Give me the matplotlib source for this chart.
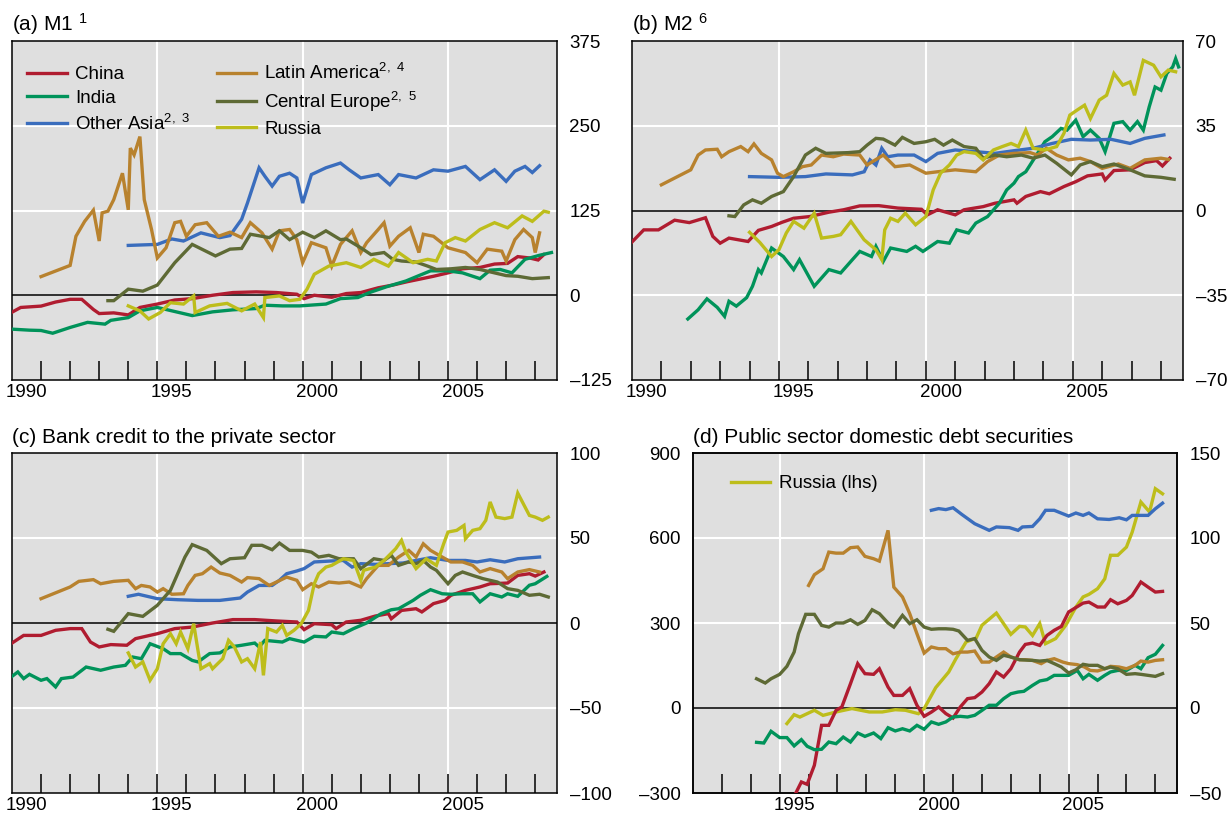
import matplotlib
matplotlib.use("Agg")
import matplotlib.pyplot as plt

plt.rcParams['font.family'] = ['Liberation Sans', 'DejaVu Sans']
plt.rcParams['mathtext.default'] = 'regular'

BG = '#dfdfdf'
C_CHINA = '#b01c30'
C_INDIA = '#00935a'
C_ASIA = '#3a6dbd'
C_LATAM = '#b8822e'
C_CEUR = '#5e6a35'
C_RUSSIA = '#bdbd1b'

# (a) M1, year / value
A_CHINA = [(1990.0,-25),(1990.3,-18),(1991.0,-16),(1991.5,-10),(1992.0,-6),(1992.4,-6),(1992.8,-21),(1993.0,-27),(1993.5,-26),(1994.0,-29),(1994.4,-18),(1995.0,-13),(1995.6,-7),(1996.2,-5),(1996.9,0),(1997.6,4),(1998.4,5),(1999.1,4),(1999.8,1.5),(2000.05,-5),(2000.4,0),(2001.0,-3),(2001.5,2.5),(2002.0,4),(2002.6,11),(2003.1,15),(2003.6,20),(2004.0,23.5),(2004.5,28),(2005.0,33),(2005.5,39),(2006.1,41),(2006.6,46),(2007.05,47),(2007.4,57),(2007.8,55),(2008.1,52),(2008.3,60)]
A_INDIA = [(1990.0,-50),(1990.6,-51.5),(1991.0,-52),(1991.4,-56),(1992.0,-47.5),(1992.6,-40),(1993.2,-42.6),(1993.4,-37),(1994.0,-33),(1994.4,-23),(1995.0,-18),(1995.5,-23),(1996.2,-30),(1996.9,-24.5),(1997.6,-21.5),(1998.4,-19.6),(1998.7,-14.7),(1999.3,-15.7),(1999.9,-15.7),(2000.8,-13),(2001.3,-5),(2001.9,-3.4),(2002.3,4),(2002.9,12.7),(2003.55,21),(2004.0,29),(2004.4,36),(2005.0,36),(2005.5,33),(2006.1,24.5),(2006.45,37),(2006.8,38),(2007.2,33),(2007.65,53),(2008.15,59),(2008.56,63)]
A_ASIA = [(1994.0,73.5),(1995.0,75),(1995.5,83),(1995.9,80),(1996.5,92),(1997.15,85),(1997.5,88),(1997.9,112),(1998.1,136),(1998.5,188),(1998.7,175.5),(1998.95,161),(1999.2,175.5),(1999.55,180),(1999.8,173),(2000.0,136),(2000.3,178),(2000.8,188),(2001.3,195),(2001.6,185),(2002.0,173),(2002.6,178),(2003.0,163),(2003.3,178),(2003.9,173),(2004.5,185),(2005.0,183),(2005.6,190),(2006.1,170.5),(2006.6,185),(2007.0,168),(2007.3,183),(2007.65,190),(2007.9,181),(2008.15,191)]
A_LATAM = [(1991.0,27.5),(1992.0,44),(1992.2,87),(1992.5,109),(1992.8,125.5),(1993.0,80),(1993.1,121.5),(1993.3,124),(1993.5,141),(1993.8,180),(1994.0,126),(1994.07,217),(1994.2,207),(1994.4,234),(1994.55,141),(1994.8,97),(1995.0,55),(1995.3,70),(1995.6,107),(1995.8,109),(1996.0,87),(1996.3,104),(1996.7,107),(1997.1,87),(1997.5,93),(1997.9,85),(1998.2,107),(1998.6,92),(1998.95,68),(1999.2,95),(1999.55,97),(1999.8,82),(2000.0,48),(2000.3,77.5),(2000.8,70),(2001.0,43),(2001.3,75),(2001.7,95),(2002.0,63),(2002.2,77.5),(2002.6,97),(2002.8,107),(2003.0,72.5),(2003.3,87),(2003.7,99.5),(2004.0,63),(2004.15,90),(2004.5,87),(2005.0,70),(2005.6,63),(2006.0,48),(2006.35,68),(2006.85,65),(2007.0,50.5),(2007.3,82),(2007.6,97),(2007.9,85),(2008.0,63),(2008.15,92)]
A_CEUR = [(1993.3,-8),(1993.5,-8),(1994.0,9),(1994.5,6),(1995.0,15),(1995.6,48),(1996.2,75),(1997.0,58),(1997.5,68),(1997.9,69),(1998.2,90),(1998.85,85),(1999.2,95),(1999.55,82),(2000.0,93),(2000.4,85),(2000.8,95),(2001.3,82),(2001.5,83),(2002.0,70),(2002.35,60),(2002.8,63),(2003.1,53),(2003.4,50.5),(2003.9,49),(2004.3,43),(2004.6,38),(2005.1,39),(2005.6,41),(2006.1,38),(2006.6,33),(2007.0,29),(2007.4,28),(2007.9,24.5),(2008.45,26)]
A_RUSSIA = [(1994.0,-15.7),(1994.4,-23),(1994.7,-35),(1995.1,-25.5),(1995.45,-11),(1995.9,-13),(1996.25,-1),(1996.3,-25.5),(1996.8,-15.7),(1997.4,-12),(1997.9,-23),(1998.35,-13),(1998.65,-33),(1998.7,-3.4),(1999.2,-1),(1999.55,-8),(1999.9,-6),(2000.15,9),(2000.4,31),(2000.9,43),(2001.5,48),(2002.0,41),(2002.45,53),(2002.95,43),(2003.3,63),(2003.8,48),(2004.3,53),(2004.6,50.5),(2004.9,77.5),(2005.25,85),(2005.6,80),(2006.1,97),(2006.6,107),(2007.05,99.5),(2007.55,117),(2007.9,109),(2008.3,124),(2008.45,122.5)]

# (b) M2
B_CHINA = [(1990.0,-13),(1990.4,-8),(1990.9,-8),(1991.45,-4),(1991.95,-5),(1992.5,-3),(1992.75,-10.7),(1993.0,-13.5),(1993.3,-11.4),(1993.95,-12.8),(1994.3,-8.2),(1994.75,-6.6),(1995.1,-4.9),(1995.5,-3.2),(1996.05,-2.5),(1996.7,-0.7),(1997.2,0.3),(1997.75,1.9),(1998.4,2),(1999.05,1),(1999.85,0.5),(2000.05,-1.8),(2000.4,0.3),(2001.0,-1.8),(2001.3,0.3),(2001.95,1.6),(2002.35,3),(2003.0,4.4),(2003.1,3),(2003.4,5.8),(2003.9,7.8),(2004.2,6.9),(2004.7,9.9),(2005.1,11.9),(2005.5,14.3),(2006.0,15.1),(2006.1,12.6),(2006.4,16.5),(2006.95,16.8),(2007.45,19.8),(2007.85,20.6),(2008.05,18.4),(2008.3,21.6)]
B_INDIA = [(1991.9,-44.8),(1992.25,-41),(1992.55,-36.5),(1992.9,-40),(1993.15,-43.7),(1993.3,-37.5),(1993.55,-39.5),(1993.9,-36),(1994.1,-31.3),(1994.3,-24.4),(1994.4,-25.8),(1994.75,-15.5),(1995.15,-19),(1995.5,-24.4),(1995.7,-20.3),(1996.2,-31.3),(1996.7,-24.4),(1997.1,-25.8),(1997.5,-20.3),(1997.75,-16.9),(1998.15,-19),(1998.3,-14.8),(1998.55,-21),(1998.8,-15.5),(1999.35,-16.9),(1999.65,-14.8),(1999.9,-16.9),(2000.4,-12.8),(2000.8,-13.5),(2001.05,-8),(2001.45,-9.3),(2001.7,-5.2),(2002.1,-2.5),(2002.5,3),(2002.75,8.5),(2003.0,11.3),(2003.15,14),(2003.4,16),(2003.8,23.6),(2004.05,28.4),(2004.3,30.5),(2004.6,33.9),(2004.8,33.2),(2005.1,37.3),(2005.35,30.5),(2005.6,33.2),(2005.9,29.8),(2006.1,24.3),(2006.4,36),(2006.7,36.7),(2006.95,33.2),(2007.2,36.7),(2007.4,33.2),(2007.6,42.8),(2007.8,51),(2008.0,49.7),(2008.2,56.6),(2008.4,59.3),(2008.5,62.7),(2008.6,59.3)]
B_ASIA = [(1994.0,14),(1995.0,13.7),(1995.9,14),(1996.6,15.1),(1997.5,14.7),(1997.9,16),(1998.1,20.9),(1998.3,18.8),(1998.5,25.7),(1998.7,22.2),(1999.05,22.9),(1999.6,22.9),(2000.0,20.2),(2000.4,23.6),(2001.0,25),(2001.7,24.3),(2002.35,23.6),(2003.0,24.7),(2003.65,25.7),(2004.3,27.7),(2004.95,29.4),(2005.6,29.1),(2006.3,29.4),(2006.95,27.7),(2007.45,29.8),(2008.1,31.2)]
B_LATAM = [(1991.0,10.6),(1992.0,16.8),(1992.25,22.9),(1992.5,25),(1992.9,25.3),(1993.05,22.2),(1993.3,24.3),(1993.7,26.4),(1993.95,24.3),(1994.15,27.5),(1994.4,23.6),(1994.75,20.9),(1994.95,15.4),(1995.15,14),(1995.5,16),(1995.8,18.1),(1996.1,18.8),(1996.45,22.9),(1996.85,22.2),(1997.2,23.3),(1997.75,22.9),(1998.0,18.8),(1998.55,22.9),(1998.95,18.1),(1999.45,18.8),(2000.0,15.4),(2000.4,16),(2001.0,16.8),(2001.7,16),(2002.1,20.2),(2002.5,22.9),(2003.0,23.6),(2003.55,23.9),(2003.8,22.9),(2004.1,25.7),(2004.45,22.9),(2004.85,20.9),(2005.25,21.6),(2005.6,20.2),(2006.0,17.4),(2006.55,19.2),(2006.95,17.4),(2007.45,20.9),(2008.0,21.6),(2008.25,21.1)]
B_CEUR = [(1993.3,-2.2),(1993.5,-2.5),(1993.8,2.3),(1994.1,4.4),(1994.4,3),(1994.75,5.8),(1995.15,7.8),(1995.5,14),(1995.9,22.9),(1996.25,25.7),(1996.6,23.6),(1997.35,23.9),(1997.75,24.3),(1998.0,27),(1998.3,29.8),(1998.55,29.5),(1998.95,27),(1999.2,30.2),(1999.6,27.7),(2000.0,28.4),(2000.3,29.4),(2000.6,27),(2000.9,29.1),(2001.3,26.4),(2001.7,25.7),(2001.95,21.6),(2002.35,22.9),(2002.75,22.2),(2003.25,22.9),(2003.65,21.6),(2004.05,22.9),(2004.45,19.5),(2004.95,14.7),(2005.25,18.8),(2005.6,20.2),(2006.0,18.1),(2006.4,19.2),(2006.95,16.8),(2007.45,14.3),(2008.0,13.7),(2008.45,12.9)]
B_RUSSIA = [(1994.0,-9),(1994.35,-13.2),(1994.75,-19),(1995.0,-16.2),(1995.25,-9.3),(1995.5,-4.5),(1995.85,-7.3),(1996.2,-1.1),(1996.45,-11.4),(1996.85,-10.7),(1997.1,-10),(1997.45,-4.5),(1997.9,-12.1),(1998.3,-16.2),(1998.5,-20.3),(1998.6,-8),(1998.8,-3.2),(1999.05,-4.5),(1999.3,-1.1),(1999.65,-5.9),(2000.0,-2.5),(2000.25,8.5),(2000.5,15.4),(2000.8,18.8),(2001.05,22.9),(2001.3,24.3),(2001.7,23.6),(2001.95,20.9),(2002.3,25),(2002.6,26.4),(2002.9,27.7),(2003.15,26.4),(2003.4,33.2),(2003.65,25.7),(2004.05,25),(2004.45,26.4),(2004.7,31.9),(2004.9,39.4),(2005.15,41.5),(2005.4,43.5),(2005.6,38),(2005.9,45.6),(2006.15,47.6),(2006.4,56.6),(2006.7,51.8),(2006.95,53.1),(2007.1,47.6),(2007.4,62),(2007.75,60),(2008.0,55.2),(2008.25,58),(2008.5,57.3)]

# (c) Bank credit to the private sector
C_CHINA_D = [(1990.0,-11.8),(1990.4,-7.3),(1991.0,-7.3),(1991.5,-4.3),(1992.0,-3.3),(1992.4,-3.3),(1992.7,-11.2),(1993.0,-14.1),(1993.4,-12.7),(1993.95,-13.1),(1994.25,-9.2),(1995.0,-6.3),(1995.6,-3.3),(1996.2,-2.4),(1996.9,0),(1997.6,2),(1998.35,2),(1999.1,1.2),(1999.8,0.6),(2000.05,-3.9),(2000.4,-0.4),(2001.0,-1),(2001.15,-3.3),(2001.5,0.6),(2002.0,1.6),(2002.5,4.1),(2002.95,5.5),(2003.05,2.5),(2003.4,7.4),(2003.9,8.4),(2004.1,6.5),(2004.5,11.4),(2004.9,13.3),(2005.1,16.3),(2005.6,19.2),(2006.1,21.2),(2006.45,23.1),(2007.05,23.5),(2007.4,28),(2007.8,29),(2008.0,27.6),(2008.3,30)]
C_INDIA_D = [(1990.0,-31.4),(1990.2,-28.8),(1990.4,-32.7),(1990.6,-30.2),(1991.0,-33.7),(1991.2,-32.7),(1991.5,-37.6),(1991.7,-32.7),(1992.1,-31.8),(1992.55,-25.9),(1993.05,-27.8),(1993.5,-25.9),(1993.9,-24.9),(1994.15,-20),(1994.45,-21),(1994.75,-12.2),(1995.2,-15.1),(1995.45,-18),(1995.8,-18),(1996.2,-22),(1996.4,-22.9),(1996.8,-18),(1997.15,-17.6),(1997.5,-14.1),(1997.9,-13.1),(1998.35,-11.8),(1998.5,-14.1),(1998.7,-10.2),(1999.3,-11.2),(1999.55,-9.2),(2000.05,-11.2),(2000.4,-7.8),(2000.8,-8.2),(2001.0,-5.3),(2001.4,-6.3),(2001.75,-3.3),(2002.2,0),(2002.7,5.5),(2003.05,7.8),(2003.3,8.4),(2003.8,13.3),(2004.05,16.3),(2004.4,19.6),(2004.8,17.2),(2005.1,16.9),(2005.5,17.2),(2005.85,17.2),(2006.1,12.4),(2006.45,17.2),(2006.85,15.3),(2007.05,17.2),(2007.4,15.7),(2007.8,22.2),(2008.0,23.1),(2008.4,27.4)]
C_ASIA_D = [(1994.0,15.7),(1994.35,16.9),(1995.0,14.3),(1995.7,13.7),(1996.4,13.3),(1997.15,13.3),(1997.85,14.7),(1998.1,18.2),(1998.5,22.1),(1998.95,22.1),(1999.2,25.1),(1999.45,29),(1999.8,30.6),(2000.05,32),(2000.4,35.9),(2001.0,36.5),(2001.4,36.8),(2001.7,32.9),(2002.0,34.9),(2002.5,34.5),(2002.95,34.9),(2003.45,35.3),(2003.9,36.8),(2004.4,38.4),(2005.0,36.8),(2005.6,36.8),(2006.0,35.9),(2006.45,37.2),(2006.95,35.9),(2007.4,37.8),(2008.15,38.8)]
C_LATAM_D = [(1991.0,14.3),(1992.0,21.2),(1992.3,24.5),(1992.8,25.5),(1993.05,23.1),(1993.5,24.5),(1994.0,25.1),(1994.25,20.2),(1994.45,22.1),(1994.75,21.2),(1995.0,18.2),(1995.2,20.2),(1995.5,16.9),(1995.9,17.2),(1996.05,22.1),(1996.3,28),(1996.55,29),(1996.85,32.9),(1997.15,29.4),(1997.5,28),(1997.9,24.1),(1998.1,26.7),(1998.5,26.1),(1998.85,22.1),(1999.1,24.1),(1999.45,27),(1999.8,25.1),(2000.0,19.6),(2000.3,23.1),(2000.55,21.2),(2000.9,24.1),(2001.25,23.5),(2001.6,24.1),(2002.0,21.2),(2002.2,26.1),(2002.6,33.9),(2002.95,33.9),(2003.3,38.8),(2003.65,42.7),(2003.9,38.8),(2004.15,46.6),(2004.4,42.7),(2004.8,38.8),(2005.1,35.9),(2005.5,35.9),(2005.85,33.9),(2006.1,30),(2006.45,32),(2006.85,30),(2007.05,26.1),(2007.4,30),(2007.8,31.4),(2008.15,30)]
C_CEUR_D = [(1993.3,-3.7),(1993.5,-4.9),(1994.0,5.5),(1994.5,3.9),(1995.0,10.4),(1995.45,19.2),(1995.95,38.8),(1996.2,46.1),(1996.7,42.7),(1997.2,34.9),(1997.5,37.8),(1998.0,38.4),(1998.25,45.7),(1998.6,45.7),(1998.95,43.1),(1999.2,47),(1999.55,42.7),(2000.0,42.7),(2000.3,41.7),(2000.55,38.8),(2000.9,39.8),(2001.25,37.8),(2001.75,37.8),(2002.0,31.9),(2002.45,37.8),(2002.8,36.8),(2003.05,39.8),(2003.3,33.9),(2003.65,35.9),(2003.9,34.9),(2004.15,36.8),(2004.4,32.9),(2004.6,31),(2005.0,23.1),(2005.25,28),(2005.5,30),(2005.85,28),(2006.2,26.1),(2006.7,24.1),(2007.05,20.2),(2007.4,19.2),(2007.8,16.3),(2008.15,16.9),(2008.45,15.3)]
C_RUSSIA_D = [(1994.0,-17.6),(1994.25,-25.9),(1994.5,-22.9),(1994.75,-33.7),(1995.0,-26.9),(1995.2,-12.2),(1995.45,-6.3),(1995.65,-12.2),(1995.8,-5.3),(1996.05,-15.1),(1996.25,-0.4),(1996.5,-26.9),(1996.8,-23.9),(1996.9,-26.9),(1997.25,-21),(1997.45,-10.2),(1997.65,-14.1),(1997.9,-22.9),(1998.1,-21),(1998.35,-26.9),(1998.55,-11.2),(1998.65,-30.8),(1998.8,-3.3),(1999.1,-5.3),(1999.3,-1.4),(1999.45,-7.3),(1999.7,-4.3),(1999.95,-0.4),(2000.2,7.4),(2000.4,23.1),(2000.55,29),(2000.8,32.9),(2001.0,33.9),(2001.4,37.8),(2001.75,36.8),(2002.0,25.1),(2002.1,31),(2002.5,32.9),(2002.8,36.8),(2003.2,43.7),(2003.4,48.6),(2003.55,41.7),(2003.9,32),(2004.25,37.8),(2004.6,33.9),(2004.85,46.6),(2005.0,53.5),(2005.3,54.5),(2005.55,57.4),(2005.6,49.6),(2005.85,54.5),(2006.1,55.5),(2006.3,60.4),(2006.45,71.2),(2006.65,62.3),(2006.95,61.4),(2007.2,62.3),(2007.4,76.4),(2007.8,63.3),(2008.0,62.3),(2008.25,60.4),(2008.45,62.3)]

# (d) Public sector domestic debt securities; Russia on lhs, rest on rhs
D_RUSSIA = [(1995.25,-55),(1995.5,-23.5),(1995.7,-32),(1996.2,-8),(1996.5,-26),(1996.95,-14),(1997.5,-2),(1998.1,-14),(1998.55,-14),(1999.0,-6),(1999.35,-8),(1999.8,-20),(2000.0,-2),(2000.4,72),(2000.85,127),(2001.1,174),(2001.45,233),(2001.8,247),(2002.0,292),(2002.5,335),(2003.0,260),(2003.3,288),(2003.5,286),(2003.75,256),(2004.0,298),(2004.2,227),(2004.55,245),(2004.9,292),(2005.25,356),(2005.5,392),(2005.7,401),(2006.0,421),(2006.25,456),(2006.45,539),(2006.7,539),(2007.0,568),(2007.2,621),(2007.5,727),(2007.8,692),(2008.0,774),(2008.25,756)]
D_ASIA = [(2000.25,116.3),(2000.5,117.3),(2000.75,116.7),(2001.0,117.8),(2001.3,113.9),(2001.75,108.4),(2002.25,104.5),(2002.5,106.5),(2002.95,106.1),(2003.25,104.5),(2003.4,106.5),(2003.75,106.8),(2004.0,111.3),(2004.2,116.3),(2004.5,116.3),(2005.0,112.9),(2005.25,114.7),(2005.5,113.3),(2005.7,114.7),(2006.0,111.3),(2006.4,110.9),(2006.75,111.9),(2007.0,110.7),(2007.2,113.3),(2007.75,113.3),(2008.0,117.2),(2008.25,120.5)]
D_CHINA = [(1995.5,-52),(1995.75,-43.5),(1995.95,-44.9),(1996.2,-33.7),(1996.45,-10.2),(1996.7,-10.2),(1996.95,-1.4),(1997.15,0.6),(1997.45,14.3),(1997.7,26.1),(1997.95,20.2),(1998.25,19.8),(1998.45,23.1),(1998.75,12.3),(1998.95,7.4),(1999.25,7.4),(1999.5,11.4),(1999.75,1.6),(2000.0,-4.9),(2000.25,-2.4),(2000.5,0.6),(2000.75,-3.3),(2001.0,-5.9),(2001.25,0.6),(2001.5,5.5),(2001.75,6.1),(2002.0,9.4),(2002.25,14.3),(2002.5,21.2),(2002.75,18.2),(2003.0,23.1),(2003.3,32.9),(2003.5,37.4),(2003.75,38.2),(2004.0,36.8),(2004.25,42.7),(2004.5,45.7),(2004.75,48),(2005.0,56.5),(2005.5,61.7),(2005.7,62.3),(2006.0,59.4),(2006.25,59.4),(2006.45,63.7),(2006.7,61.3),(2007.0,63.3),(2007.2,66.2),(2007.5,74.1),(2007.75,71.1),(2008.0,68.2),(2008.25,68.6)]
D_INDIA = [(1994.2,-20.2),(1994.45,-20.6),(1994.7,-13.7),(1995.0,-17.4),(1995.25,-17.4),(1995.5,-22.3),(1995.75,-18.6),(1995.95,-22.5),(1996.2,-24.5),(1996.45,-24.3),(1996.7,-20),(1996.95,-21),(1997.2,-17.1),(1997.45,-20),(1997.7,-14.7),(1997.95,-16.7),(1998.25,-14.7),(1998.5,-18),(1998.75,-11.6),(1999.0,-13.5),(1999.25,-12.2),(1999.5,-13.5),(1999.75,-10.2),(2000.0,-12.5),(2000.25,-8.2),(2000.5,-9.6),(2000.75,-8.2),(2001.0,-5.3),(2001.25,-4.9),(2001.5,-5.3),(2001.75,-4.3),(2002.0,-1.4),(2002.25,1.6),(2002.5,1.6),(2002.75,5.5),(2003.0,8.4),(2003.25,9.4),(2003.45,9.8),(2003.75,13.3),(2004.0,15.9),(2004.25,16.7),(2004.5,19.2),(2005.0,19.2),(2005.3,22.1),(2005.5,17.2),(2005.7,19.8),(2006.0,16.3),(2006.25,19.2),(2006.45,21.2),(2006.7,22.1),(2007.0,22.1),(2007.3,25.1),(2007.5,23.1),(2007.75,29.6),(2008.0,31.6),(2008.25,36.8)]
D_LATAM = [(1996.0,72.1),(1996.2,78.4),(1996.5,81.9),(1996.7,91.7),(1996.95,91.1),(1997.2,91.1),(1997.45,94.3),(1997.7,94.7),(1997.95,89.2),(1998.25,87.8),(1998.45,86.4),(1998.75,104.5),(1998.95,71.1),(1999.25,65.3),(1999.5,55.5),(1999.75,43.7),(2000.0,32.3),(2000.25,35.9),(2000.5,34.9),(2000.75,34.9),(2001.0,31.9),(2001.25,32.9),(2001.5,32.9),(2001.75,33.5),(2002.0,27),(2002.25,27),(2002.5,30),(2002.75,32.9),(2003.0,30),(2003.3,28.4),(2003.5,28.4),(2003.75,28),(2004.05,26.1),(2004.25,28),(2004.5,29),(2004.8,27),(2005.0,26.1),(2005.3,25.5),(2005.55,24.1),(2005.75,22.1),(2006.0,21.8),(2006.25,23.1),(2006.45,24.5),(2006.75,24.1),(2007.0,23.1),(2007.3,25.1),(2007.5,27.6),(2007.75,27),(2008.0,28),(2008.25,28.4)]
D_CEUR = [(1994.2,17.2),(1994.5,14.7),(1994.7,17.2),(1995.0,19.8),(1995.25,24.5),(1995.5,32.9),(1995.65,43.7),(1995.9,55.1),(1996.2,55.1),(1996.45,48.6),(1996.7,47.6),(1996.95,50),(1997.2,50),(1997.45,51.9),(1997.7,49.2),(1997.95,51.5),(1998.2,57.8),(1998.45,55.5),(1998.75,50),(1998.95,47.6),(1999.25,54.5),(1999.5,49.6),(1999.75,51.9),(2000.0,47.6),(2000.25,46.3),(2000.5,46.6),(2000.75,46.6),(2001.0,46.3),(2001.2,45.3),(2001.5,39.8),(2001.75,40.8),(2002.0,33.9),(2002.25,30),(2002.5,28),(2002.75,31),(2003.0,30),(2003.3,28.4),(2003.75,28),(2004.0,27.6),(2004.25,28),(2004.5,26.1),(2004.75,24.1),(2005.0,20.6),(2005.25,22.5),(2005.5,25.7),(2005.7,25.1),(2006.0,25.1),(2006.25,23.1),(2006.45,24.1),(2006.7,23.1),(2007.0,19.8),(2007.3,20.2),(2007.5,19.8),(2007.75,19.2),(2008.0,18.6),(2008.25,20.2)]

A_TICKS = [-125, 0, 125, 250, 375]
B_TICKS = [-70, -35, 0, 35, 70]
C_TICKS = [-100, -50, 0, 50, 100]
D_LTICKS = [-300, 0, 300, 600, 900]
D_RTICKS = [-50, 0, 50, 100, 150]
YEAR_LABELS = [1990, 1995, 2000, 2005]

LW = 2.4
FS = 13.5
W, H = 1227, 816


def lab(v):
    return f'–{abs(v)}' if v < 0 else str(v)


def line(ax, pts, color, label=None):
    xs = [p[0] for p in pts]
    ys = [p[1] for p in pts]
    ax.plot(xs, ys, color=color, lw=LW, label=label, zorder=3, solid_joinstyle='miter')


def yaxis(ax, ticks, side):
    ax.set_ylim(ticks[0], ticks[-1])
    ax.set_yticks(ticks)
    ax.set_yticklabels([lab(t) for t in ticks], fontsize=FS)
    if side == 'right':
        ax.yaxis.tick_right()
    ax.tick_params(axis='y', length=0, pad=9)
    for s in ax.spines.values():
        s.set_linewidth(1.1)
        s.set_color('black')


def frame(ax, x0, ticks, years, side='right'):
    ax.set_facecolor(BG)
    ax.set_xlim(x0, 2008.75)
    yaxis(ax, ticks, side)
    for t in ticks[1:-1]:
        if t == 0:
            ax.axhline(0, color='black', lw=1.1, zorder=2.5)
        else:
            ax.axhline(t, color='white', lw=1.5, zorder=1)
    for yr in (1995, 2000, 2005):
        ax.axvline(yr, color='white', lw=1.5, zorder=1)
    ax.set_xticks(list(range(int(x0) + 1, 2009)))
    ax.set_xticks([y + 0.5 for y in years], minor=True)
    ax.set_xticklabels([str(y) for y in years], minor=True, fontsize=FS)
    ax.tick_params(axis='x', which='major', direction='in', length=13.5, width=1.1,
                   labelbottom=False)
    ax.tick_params(axis='x', which='minor', length=0, pad=3)


fig = plt.figure(figsize=(W / 100, H / 100), dpi=100)
ax_a = fig.add_axes([12 / W, 1 - 380 / H, 545 / W, 339 / H])
ax_b = fig.add_axes([632 / W, 1 - 380 / H, 551 / W, 339 / H])
ax_c = fig.add_axes([12 / W, 1 - 793 / H, 545 / W, 340 / H])
ax_d = fig.add_axes([693 / W, 1 - 793 / H, 484 / W, 340 / H])

frame(ax_a, 1990, A_TICKS, YEAR_LABELS)
frame(ax_b, 1990, B_TICKS, YEAR_LABELS)
frame(ax_c, 1990, C_TICKS, YEAR_LABELS)

names = ['China', 'India', 'Other Asia$^{2,\\ 3}$', 'Latin America$^{2,\\ 4}$',
         'Central Europe$^{2,\\ 5}$', 'Russia']
colors = [C_CHINA, C_INDIA, C_ASIA, C_LATAM, C_CEUR, C_RUSSIA]
for ax, group in [(ax_a, [A_CHINA, A_INDIA, A_ASIA, A_LATAM, A_CEUR, A_RUSSIA]),
                  (ax_b, [B_CHINA, B_INDIA, B_ASIA, B_LATAM, B_CEUR, B_RUSSIA]),
                  (ax_c, [C_CHINA_D, C_INDIA_D, C_ASIA_D, C_LATAM_D, C_CEUR_D, C_RUSSIA_D])]:
    for pts, col, nm in zip(group, colors, names):
        line(ax, pts, col, nm)

ax_a.legend(loc='upper left', bbox_to_anchor=(0.028, 0.935), ncol=2, frameon=False,
            fontsize=FS, borderpad=0, borderaxespad=0, handlelength=2.1,
            handletextpad=0.45, labelspacing=0.36, columnspacing=1.4)

# panel (d): Russia on the left scale, the rest on a twin right scale
frame(ax_d, 1992, D_LTICKS, YEAR_LABELS[1:], side='left')
line(ax_d, D_RUSSIA, C_RUSSIA, 'Russia (lhs)')
ax_dr = ax_d.twinx()
yaxis(ax_dr, D_RTICKS, 'right')
for pts, col in zip([D_CHINA, D_INDIA, D_ASIA, D_LATAM, D_CEUR],
                    [C_CHINA, C_INDIA, C_ASIA, C_LATAM, C_CEUR]):
    line(ax_dr, pts, col)
ax_d.legend(loc='upper left', bbox_to_anchor=(0.078, 0.935), frameon=False,
            fontsize=FS, borderpad=0, borderaxespad=0, handlelength=2.1,
            handletextpad=0.45)

TFS = 15
ax_a.set_title('(a) M1 $^{1}$', loc='left', fontsize=TFS, pad=7)
ax_b.set_title('(b) M2 $^{6}$', loc='left', fontsize=TFS, pad=7)
ax_c.set_title('(c) Bank credit to the private sector', loc='left', fontsize=TFS, pad=7)
ax_d.set_title('(d) Public sector domestic debt securities', loc='left', fontsize=TFS, pad=7)

fig.savefig('out.png', dpi=100)
